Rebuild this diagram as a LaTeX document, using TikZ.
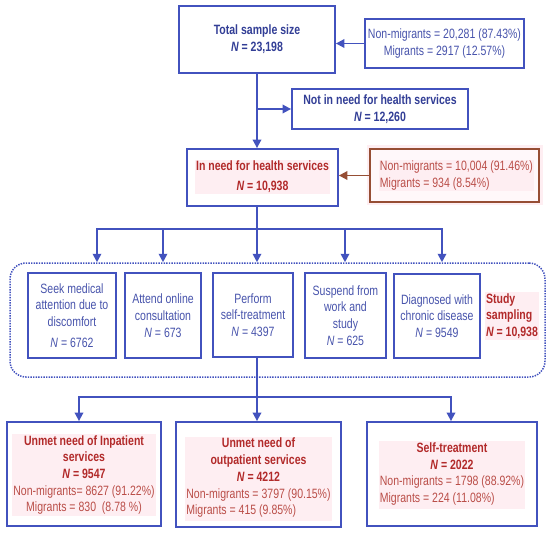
\documentclass[tikz,border=0pt]{standalone}
\usepackage{fontspec}
\setmainfont{Liberation Sans}[FakeStretch=0.78]
\usetikzlibrary{arrows.meta}
\definecolor{lineblue}{RGB}{66,82,190}
\definecolor{txtblue}{RGB}{72,84,172}
\definecolor{titleblue}{RGB}{50,62,150}
\definecolor{redbold}{RGB}{178,42,42}
\definecolor{redtxt}{RGB}{186,78,72}
\definecolor{brownline}{RGB}{150,78,52}
\definecolor{pinkhl}{RGB}{254,238,242}
\definecolor{pinkin}{RGB}{255,248,250}
\begin{document}
\begin{tikzpicture}[x=1pt,y=-1pt,
  every node/.style={font=\fontsize{13.5}{16.7}\selectfont},
  bluebox/.style={draw=lineblue, line width=1.8pt, fill=white, align=center, text=txtblue, inner sep=0pt},
  redbox/.style={draw=brownline, line width=1.8pt, fill=pinkin, inner sep=0pt,
    preaction={draw=pinkhl, line width=7pt}},
  hl/.style={fill=pinkhl, inner sep=1.2pt, align=center},
  ln/.style={draw=lineblue, line width=1.8pt},
  arr/.style={draw=lineblue, line width=1.8pt, -{Triangle[length=8.5pt,width=8.5pt]}},
  brownarr/.style={draw=brownline, line width=1.8pt, -{Triangle[length=8.5pt,width=8.5pt]}},
  frame/.style={draw=lineblue, line width=1.5pt, dash pattern=on 1.4pt off 1.2pt, rounded corners=16pt, inner sep=0pt}
]
\useasboundingbox (0,0) rectangle (550,535);

% top
\node[bluebox, minimum width=156pt, minimum height=67pt, text=titleblue] (total) at (257,39.5)
  {\bfseries Total sample size\\\bfseries\itshape N\upshape\ = 23,198};
\node[bluebox, minimum width=159pt, minimum height=49pt] (mig1) at (444.5,43.5)
  {Non-migrants = 20,281 (87.43\%)\\Migrants = 2917 (12.57\%)};
\node[bluebox, minimum width=176pt, minimum height=40pt, text=titleblue] (notneed) at (380,109)
  {\bfseries Not in need for health services\\\bfseries\itshape N\upshape\ = 12,260};

\node[bluebox, minimum width=151pt, minimum height=57pt] (inneed) at (262.5,177.5) {};
\node[hl, text=redbold] (inneedt) at (262.5,177) {\bfseries In need for health services\\[3.3pt]\bfseries\itshape N\upshape\ = 10,938};
\node[redbox, minimum width=169pt, minimum height=53pt] (mig2) at (454.5,175.5) {};
\node[hl, align=left, text=redtxt] (mig2t) at (456.5,175.5) {Non-migrants = 10,004 (91.46\%)\\Migrants = 934 (8.54\%)};

\draw[arr] (mig1.west) -- (mig1.west -| total.east);
\draw[arr] (total.south) -- (total.south |- inneed.north);
\draw[arr] (total.south |- notneed.west) -- (notneed.west);
\draw[brownarr] (mig2.west) -- (mig2.west -| inneed.east);

% study sampling frame
\node[frame, minimum width=535pt, minimum height=114pt] (frame) at (277.5,320) {};
\node[bluebox, minimum width=88pt, minimum height=85pt] (s1) at (72,315.5)
  {Seek medical\\attention due to\\discomfort\\[4.5pt]\itshape N\upshape\ = 6762};
\node[bluebox, minimum width=76pt, minimum height=85pt] (s2) at (163,315.5)
  {Attend online\\consultation\\\itshape N\upshape\ = 673};
\node[bluebox, minimum width=80pt, minimum height=84pt] (s3) at (253,315)
  {Perform\\self-treatment\\\itshape N\upshape\ = 4397};
\node[bluebox, minimum width=81pt, minimum height=85pt] (s4) at (345.5,315.5)
  {Suspend from\\work and\\study\\\itshape N\upshape\ = 625};
\node[bluebox, minimum width=86pt, minimum height=84pt] (s5) at (437,316)
  {Diagnosed with\\chronic disease\\\itshape N\upshape\ = 9549};
\node[hl, align=left, text=redbold] (study) at (512,316)
  {\bfseries Study\\\bfseries sampling\\\bfseries\itshape N\upshape\ = 10,938};

\coordinate (sp) at (257,229);
\coordinate (a1) at (97,229);
\coordinate (a2) at (163,229);
\coordinate (a4) at (345,229);
\coordinate (a5) at (442,229);
\draw[ln] (total.south |- inneed.south) -- (sp);
\draw[arr] (sp) -- (a1) -- (a1 |- frame.north);
\draw[arr] (sp) -- (a5) -- (a5 |- frame.north);
\draw[arr] (a2) -- (a2 |- frame.north);
\draw[arr] (a4) -- (a4 |- frame.north);
\draw[arr] (sp) -- (sp |- frame.north);

% bottom
\node[bluebox, minimum width=154pt, minimum height=104pt] (b1) at (84,474) {};
\node[bluebox, minimum width=165pt, minimum height=105pt] (b2) at (258.5,474.5) {};
\node[bluebox, minimum width=170pt, minimum height=104pt] (b3) at (452,474) {};
\node[hl, text=redtxt] (b1t) at (84,475)
  {\color{redbold}\bfseries Unmet need of Inpatient\\\color{redbold}\bfseries services\\\color{redbold}\bfseries\itshape N\upshape\ = 9547\\Non-migrants= 8627 (91.22\%)\\Migrants = 830~~(8.78 \%)};
\node[hl, text=redtxt] (b2t) at (258.5,479)
  {\color{redbold}\bfseries Unmet need of\\\color{redbold}\bfseries outpatient services\\\color{redbold}\bfseries\itshape N\upshape\ = 4212\\\begin{tabular}[t]{@{}l@{}}Non-migrants = 3797 (90.15\%)\\Migrants = 415 (9.85\%)\end{tabular}};
\node[hl, text=redtxt] (b3t) at (452,475)
  {\color{redbold}\bfseries Self-treatment\\\color{redbold}\bfseries\itshape N\upshape\ = 2022\\\begin{tabular}[t]{@{}l@{}}Non-migrants = 1798 (88.92\%)\\Migrants = 224 (11.08\%)\end{tabular}};

\coordinate (m) at (257,397);
\coordinate (bl) at (79,397);
\coordinate (br) at (451,397);
\draw[arr] (total.south |- s3.south) -- (total.south |- b2.north);
\draw[arr] (m) -- (bl) -- (bl |- b1.north);
\draw[arr] (m) -- (br) -- (br |- b3.north);
\end{tikzpicture}
\end{document}
